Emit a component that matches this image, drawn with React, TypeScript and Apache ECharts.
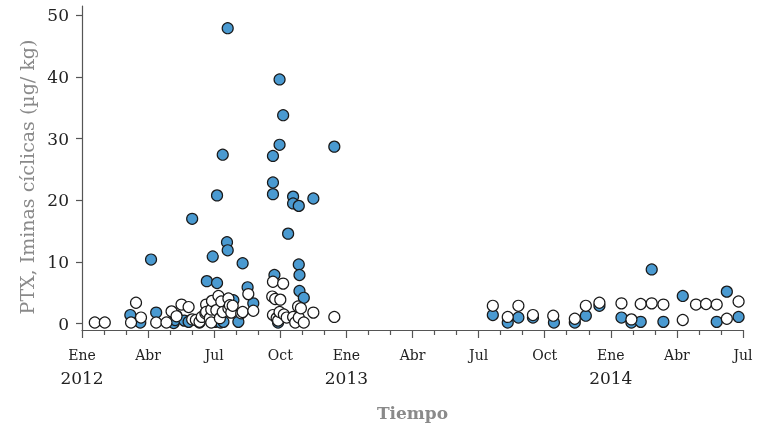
import React, { useEffect, useRef } from "react";
import * as echarts from "echarts";

// Filled (blue) samples: dates and PTX values (µg/kg)
const filledDates = [
  "2012-03-07", "2012-03-21", "2012-04-05", "2012-04-12", "2012-05-06", "2012-05-08",
  "2012-05-10", "2012-05-21", "2012-05-27", "2012-06-01", "2012-06-11", "2012-06-21",
  "2012-06-29", "2012-07-02", "2012-07-05", "2012-07-05", "2012-07-10", "2012-07-13",
  "2012-07-14", "2012-07-19", "2012-07-20", "2012-07-20", "2012-07-28", "2012-08-04",
  "2012-08-10", "2012-08-17", "2012-08-25", "2012-09-21", "2012-09-21", "2012-09-21",
  "2012-09-23", "2012-09-28", "2012-09-30", "2012-09-30", "2012-10-05", "2012-10-12",
  "2012-10-19", "2012-10-19", "2012-10-27", "2012-10-27", "2012-10-28", "2012-10-28",
  "2012-11-03", "2012-11-16", "2012-12-15",
  "2013-07-21", "2013-08-11", "2013-08-26", "2013-09-15", "2013-10-14", "2013-11-12",
  "2013-11-27", "2013-12-16", "2014-01-16", "2014-01-30", "2014-02-11", "2014-02-25",
  "2014-03-13", "2014-04-09", "2014-05-26", "2014-06-09", "2014-06-25",
];
const filledValues = [
  1.4, 0.2, 10.4, 1.8, 0.1, 0.6,
  1.3, 0.5, 0.3, 17.0, 0.2, 6.9,
  10.9, 0.3, 20.8, 6.6, 0.2, 27.4,
  0.3, 13.2, 11.9, 47.9, 3.8, 0.3,
  9.8, 5.9, 3.3, 27.2, 22.9, 21.0,
  7.9, 0.2, 39.6, 29.0, 33.8, 14.6,
  20.6, 19.5, 19.1, 9.6, 7.9, 5.3,
  4.2, 20.3, 28.7,
  1.4, 0.2, 1.0, 1.0, 0.2, 0.2,
  1.3, 2.9, 1.0, 0.2, 0.3, 8.8,
  0.3, 4.5, 0.3, 5.2, 1.1,
];

// Open (white) samples
const openDates = [
  "2012-01-19", "2012-02-02", "2012-03-08", "2012-03-15", "2012-03-22", "2012-04-12",
  "2012-04-26", "2012-05-03", "2012-05-10", "2012-05-17", "2012-05-27", "2012-06-01",
  "2012-06-06", "2012-06-11", "2012-06-14", "2012-06-19", "2012-06-20", "2012-06-20",
  "2012-06-25", "2012-06-27", "2012-06-27", "2012-06-28", "2012-07-04", "2012-07-07",
  "2012-07-09", "2012-07-11", "2012-07-13", "2012-07-21", "2012-07-21", "2012-07-23",
  "2012-07-25", "2012-07-27", "2012-08-08", "2012-08-10", "2012-08-18", "2012-08-25",
  "2012-09-20", "2012-09-21", "2012-09-21", "2012-09-24", "2012-09-26", "2012-09-28",
  "2012-09-30", "2012-10-01", "2012-10-05", "2012-10-06", "2012-10-10", "2012-10-19",
  "2012-10-22", "2012-10-26", "2012-10-27", "2012-10-30", "2012-11-03", "2012-11-16",
  "2012-12-15",
  "2013-07-21", "2013-08-11", "2013-08-26", "2013-09-15", "2013-10-13", "2013-11-12",
  "2013-11-27", "2013-12-16", "2014-01-16", "2014-01-30", "2014-02-11", "2014-02-25",
  "2014-03-13", "2014-04-09", "2014-04-27", "2014-05-11", "2014-05-26", "2014-06-09",
  "2014-06-25",
];
const openValues = [
  0.2, 0.2, 0.2, 3.4, 1.0, 0.2,
  0.2, 2.0, 1.2, 3.1, 2.7, 0.7,
  0.6, 0.3, 1.1, 1.7, 3.1, 1.9,
  0.9, 0.2, 2.3, 3.7, 2.2, 4.5,
  0.9, 3.6, 1.9, 4.1, 2.5, 3.0,
  1.8, 2.9, 1.7, 1.9, 4.8, 2.1,
  4.4, 6.8, 1.4, 4.0, 0.9, 0.5,
  1.9, 3.9, 6.5, 1.5, 1.0, 1.1,
  0.2, 2.8, 1.0, 2.5, 0.2, 1.8,
  1.1,
  2.9, 1.1, 2.9, 1.4, 1.3, 0.8,
  2.9, 3.4, 3.3, 0.7, 3.2, 3.3,
  3.1, 0.6, 3.1, 3.2, 3.1, 0.8,
  3.6,
];

const monthNames = ["Ene", "Feb", "Mar", "Abr", "May", "Jun", "Jul", "Ago", "Sep", "Oct", "Nov", "Dic"];
const yTickValues = [0, 10, 20, 30, 40, 50];
const startYear = 2012;

function toMonthIndex(d: string): number {
  const [y, m, day] = d.split("-").map(Number);
  const dim = new Date(y, m, 0).getDate();
  return (y - startYear) * 12 + (m - 1) + (day - 1) / dim;
}

const FONT = "DejaVu Serif";

export default function App() {
  const ref = useRef<HTMLDivElement>(null);
  useEffect(() => {
    if (!ref.current) return;
    const chart = echarts.init(ref.current, undefined, { renderer: "svg" });
    const filled = filledDates.map((d, i) => [toMonthIndex(d), filledValues[i]]);
    const open = openDates.map((d, i) => [toMonthIndex(d), openValues[i]]);
    chart.setOption({
      animation: false,
      grid: { left: 82, right: 15, top: 6, bottom: 100 },
      xAxis: {
        type: "value",
        min: 0,
        max: 30,
        interval: 3,
        splitLine: { show: false },
        axisLine: { show: true, onZero: false, lineStyle: { color: "#555", width: 1.2 } },
        axisTick: { show: true, length: 8, lineStyle: { color: "#555", width: 1.2 } },
        minorTick: { show: true, splitNumber: 3, length: 5, lineStyle: { color: "#555", width: 1.2 } },
        minorSplitLine: { show: false },
        axisLabel: {
          margin: 16,
          fontFamily: FONT,
          formatter: (v: number) => {
            const k = Math.round(v);
            const mi = ((k % 12) + 12) % 12;
            const name = monthNames[mi];
            if (mi === 0) return `{m|${name}}\n{y|${startYear + Math.floor(k / 12)}}`;
            return `{m|${name}}`;
          },
          rich: {
            m: { fontFamily: FONT, fontSize: 14, color: "#222", lineHeight: 17 },
            y: { fontFamily: FONT, fontSize: 17, color: "#222", lineHeight: 29 },
          },
        },
        name: "Tiempo",
        nameLocation: "middle",
        nameGap: 74,
        nameTextStyle: { fontFamily: FONT, fontSize: 17, fontWeight: "bold", color: "#8a8a8a" },
      },
      yAxis: {
        type: "value",
        min: -1.02,
        max: 51.5,
        splitLine: { show: false },
        axisLine: { show: true, lineStyle: { color: "#555", width: 1.2 } },
        axisTick: { show: true, length: 6, customValues: yTickValues, lineStyle: { color: "#555", width: 1.2 } },
        axisLabel: {
          customValues: yTickValues,
          margin: 13,
          fontFamily: FONT,
          fontSize: 17,
          color: "#222",
        },
        name: "PTX, Iminas cíclicas (µg/ kg)",
        nameLocation: "middle",
        nameGap: 46,
        nameTextStyle: { fontFamily: FONT, fontSize: 19, color: "#8a8a8a", padding: [0, 18, 0, 0] },
      },
      series: [
        {
          type: "scatter",
          name: "filled",
          data: filled,
          symbolSize: 11,
          itemStyle: { color: "#4A9AD1", borderColor: "#1a1a1a", borderWidth: 1.2, opacity: 1 },
          z: 2,
        },
        {
          type: "scatter",
          name: "open",
          data: open,
          symbolSize: 11,
          itemStyle: { color: "#ffffff", borderColor: "#1a1a1a", borderWidth: 1.2, opacity: 1 },
          z: 3,
        },
      ],
    });
    return () => chart.dispose();
  }, []);
  return <div ref={ref} style={{ position: "fixed", left: 0, top: 0, width: 758, height: 430 }} />;
}
